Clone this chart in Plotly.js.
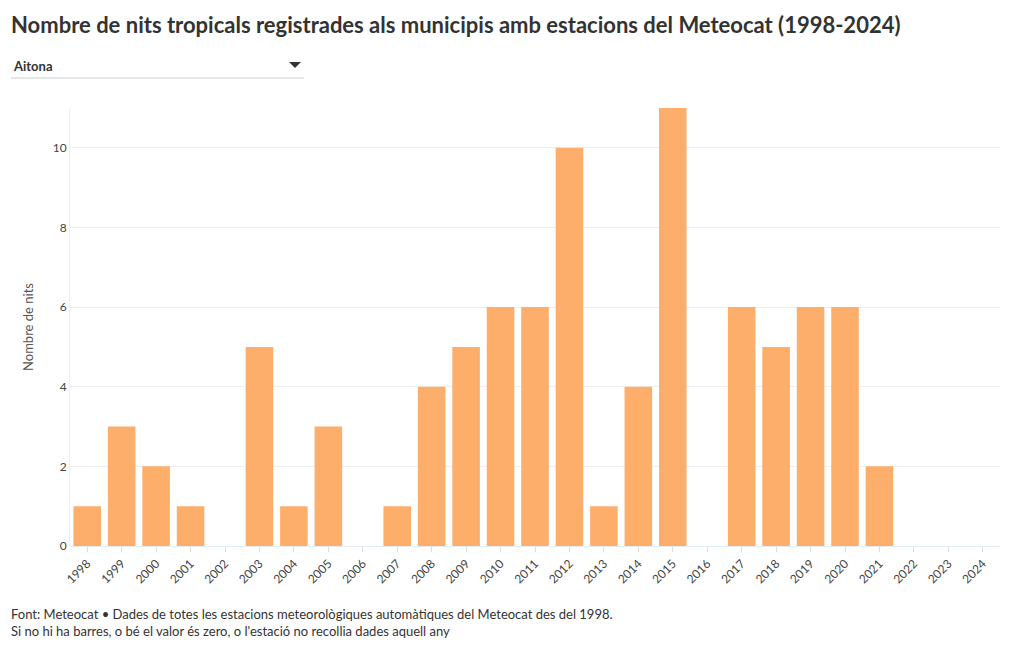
<!DOCTYPE html>
<html>
<head>
<meta charset="utf-8">
<script src="https://cdn.plot.ly/plotly-3.0.1.min.js"></script>
<style>
html,body{margin:0;padding:0;background:#fff;}
#chart{width:1020px;height:650px;}
</style>
</head>
<body>
<div id="chart"></div>
<script>
const years = ["1998","1999","2000","2001","2002","2003","2004","2005","2006","2007","2008","2009","2010","2011","2012","2013","2014","2015","2016","2017","2018","2019","2020","2021","2022","2023","2024"];
const nits = [1,3,2,1,0,5,1,3,0,1,4,5,6,6,10,1,4,11,0,6,5,6,6,2,0,0,0];
const station = "Aitona";
const titleText = "Nombre de nits tropicals registrades als municipis amb estacions del Meteocat (1998-2024)";
const yTitle = "Nombre de nits";
const note1 = "Font: Meteocat • Dades de totes les estacions meteorològiques automàtiques del Meteocat des del 1998.";
const note2 = "Si no hi ha barres, o bé el valor és zero, o l'estació no recollia dades aquell any";

const FONT = "Lato, 'Noto Sans', sans-serif";
const L = 70, R = 20, T = 108, B = 104, W = 1020, H = 650;
const pw = W - L - R, ph = H - T - B;
const px = x => (x - L) / pw;
const py = y => (H - B - y) / ph;

const trace = {
  type: 'bar',
  x: years,
  y: nits,
  marker: {color: '#fdae6b'},
  hoverinfo: 'x+y'
};

const tri = 'M ' + px(289) + ' ' + py(62) + ' L ' + px(301) + ' ' + py(62) + ' L ' + px(295) + ' ' + py(68) + ' Z';

const layout = {
  width: W, height: H,
  margin: {l: L, r: R, t: T, b: B},
  paper_bgcolor: '#fff',
  plot_bgcolor: '#fff',
  font: {family: FONT, color: '#444', size: 12},
  bargap: 0.2,
  showlegend: false,
  title: {
    text: '<b>' + titleText + '</b>',
    font: {family: FONT, size: 22, color: '#333'},
    x: 11 / W, xref: 'container', xanchor: 'left',
    y: 1 - 25 / H, yref: 'container', yanchor: 'middle'
  },
  xaxis: {
    type: 'category',
    tickangle: -45,
    ticks: 'outside', ticklen: 5, tickcolor: '#ddd',
    tickfont: {family: FONT, size: 12, color: '#444'},
    showgrid: false,
    showline: false,
    zeroline: false
  },
  yaxis: {
    range: [0, 11],
    dtick: 2,
    showgrid: true, gridcolor: '#eeeeee',
    zeroline: true, zerolinecolor: '#e4ebf2', zerolinewidth: 1,
    showline: true, linecolor: '#eeeeee',
    tickfont: {family: FONT, size: 12, color: '#444'},
    ticklen: 0,
    title: {text: yTitle, font: {family: FONT, size: 13, color: '#555'}, standoff: 16}
  },
  shapes: [
    {type: 'line', xref: 'paper', yref: 'paper', x0: px(11), x1: px(304), y0: py(78), y1: py(78), line: {color: '#cccccc', width: 1}},
    {type: 'path', xref: 'paper', yref: 'paper', path: tri, fillcolor: '#333', line: {width: 0}}
  ],
  annotations: [
    {xref: 'paper', yref: 'paper', x: px(11), y: py(66), xanchor: 'left', yanchor: 'middle', showarrow: false,
     text: '<b>' + station + '</b>', font: {family: FONT, size: 13, color: '#333'}},
    {xref: 'paper', yref: 'paper', x: px(9), y: py(604), xanchor: 'left', yanchor: 'top', align: 'left', showarrow: false,
     text: note1 + '<br>' + note2, font: {family: FONT, size: 13, color: '#333'}}
  ]
};

Plotly.newPlot('chart', [trace], layout, {displayModeBar: false});
</script>
</body>
</html>
